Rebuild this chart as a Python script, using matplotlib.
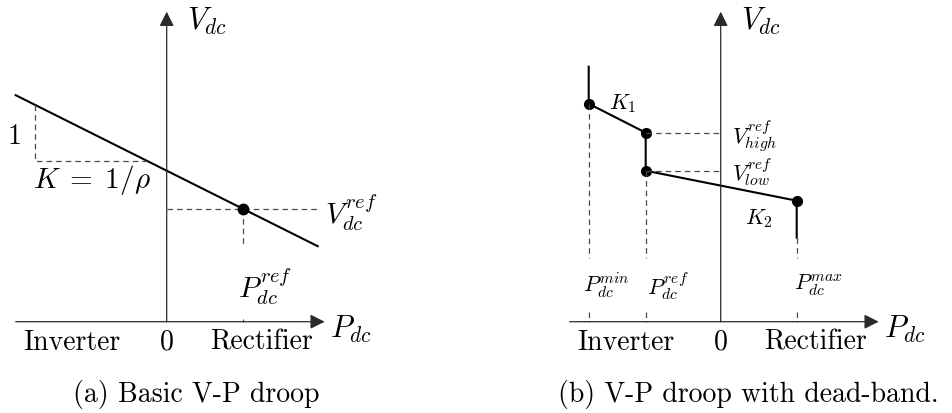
import matplotlib
matplotlib.use('Agg')
import matplotlib.pyplot as plt

plt.rcParams['mathtext.fontset'] = 'cm'
plt.rcParams['lines.scale_dashes'] = False

# (a) basic V-P droop, drawing units with the origin where the axes cross
droop_p = [-151, 151]
droop_v = [226.5, 75.5]
ref_p, ref_v = 76, 113
slope_p = [-132, -132, -20]
slope_v = [217, 161, 161]

# (b) droop with a dead-band
db_p = [-132, -132, -75, -75, 76, 76]
db_v = [255, 218, 189, 151, 121, 84]
knee_p = db_p[1:5]
knee_v = db_v[1:5]
p_min, p_ref, p_max = -132, -75, 76
v_high, v_low = 189, 151

AX_COL = '#2a2a2a'
DASH = dict(color='#4a4a4a', lw=0.9, dashes=(4.0, 2.9))
RM = dict(family='cmr10', fontsize=20)


def draw_frame(ax):
    arrow = dict(arrowstyle='-|>,head_length=0.4,head_width=0.2',
                 mutation_scale=22, lw=0.9, color=AX_COL,
                 shrinkA=0, shrinkB=0)
    ax.annotate('', xy=(158, 0), xytext=(-151, 0), arrowprops=arrow)
    ax.annotate('', xy=(0, 310), xytext=(0, 0), arrowprops=arrow)
    ax.text(20, 301, r'$V_{dc}$', fontsize=22, ha='left', va='center')
    ax.text(163, -7, r'$P_{dc}$', fontsize=22, ha='left', va='center')
    ax.text(0, -20, '0', ha='center', va='center', **RM)


fig = plt.figure(figsize=(9.53, 4.14), dpi=100)

ax = fig.add_axes([0, 0, 0.5, 1])
ax.set_xlim(-166.7, 309.8)
ax.set_ylim(-91.3, 322.7)
ax.axis('off')
draw_frame(ax)
ax.plot(droop_p, droop_v, color='black', lw=1.5)
ax.plot(slope_p, slope_v, **DASH)
ax.plot([0, droop_p[1]], [ref_v, ref_v], **DASH)
ax.plot([ref_p, ref_p], [ref_v, droop_v[1]], **DASH)
ax.plot([ref_p, ref_p], [0, 3], **DASH)
ax.plot([ref_p], [ref_v], 'o', color='black', ms=7.5)
ax.text(-152, 186, '1', ha='center', va='center', **RM)
ax.text(-75, 143, r'$K\;=\;1/\rho$', fontsize=21, ha='center', va='center')
ax.text(158, 110, r'$V_{dc}^{ref}$', fontsize=21, ha='left', va='center')
ax.text(98, 36, r'$P_{dc}^{ref}$', fontsize=21, ha='center', va='center')
ax.text(-95, -20, 'Inverter', ha='center', va='center', **RM)
ax.text(95, -20, 'Rectifier', ha='center', va='center', **RM)
ax.text(30, -72, '(a) Basic V-P droop', ha='center', va='center', **RM)

ax = fig.add_axes([0.5, 0, 0.5, 1])
ax.set_xlim(-244.2, 232.3)
ax.set_ylim(-91.3, 322.7)
ax.axis('off')
draw_frame(ax)
ax.plot(db_p, db_v, color='black', lw=1.5)
ax.plot(knee_p, knee_v, 'o', color='black', ms=7)
ax.plot([p_ref, 0], [v_high, v_high], **DASH)
ax.plot([p_ref, 0], [v_low, v_low], **DASH)
# dashed drops to the P axis, broken where the labels sit
for p, top in [(p_min, knee_v[0]), (p_ref, v_low), (p_max, db_v[-1])]:
    ax.plot([p, p], [top, 64], **DASH)
    ax.plot([p, p], [10, 0], **DASH)
ax.text(-112, 219, r'$K_1$', fontsize=16, ha='left', va='center')
ax.text(24, 104, r'$K_2$', fontsize=16, ha='left', va='center')
ax.text(11, 187, r'$V_{high}^{ref}$', fontsize=16, ha='left', va='center')
ax.text(11, 151, r'$V_{low}^{ref}$', fontsize=16, ha='left', va='center')
ax.text(-114, 37, r'$P_{dc}^{min}$', fontsize=16, ha='center', va='center')
ax.text(-53, 37, r'$P_{dc}^{ref}$', fontsize=16, ha='center', va='center')
ax.text(98, 37, r'$P_{dc}^{max}$', fontsize=16, ha='center', va='center')
ax.text(-95, -20, 'Inverter', ha='center', va='center', **RM)
ax.text(95, -20, 'Rectifier', ha='center', va='center', **RM)
ax.text(28, -72, '(b) V-P droop with dead-band.', ha='center', va='center', **RM)

fig.savefig('out.png', dpi=100)
